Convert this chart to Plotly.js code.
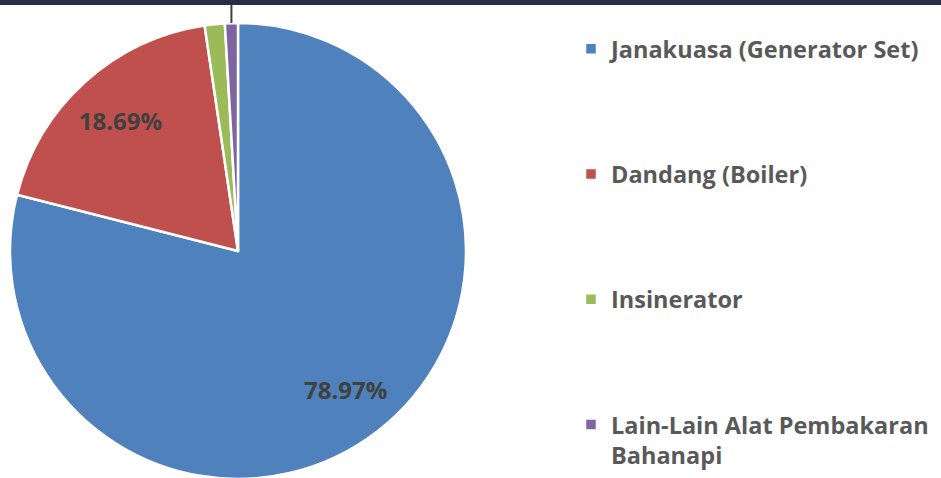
<!DOCTYPE html>
<html>
<head>
<meta charset="utf-8">
<script src="https://cdn.plot.ly/plotly-3.0.1.min.js"></script>
<style>
html, body { margin:0; padding:0; width:941px; height:478px; overflow:hidden; background:#ffffff; }
#wrap { position:relative; width:941px; height:478px; overflow:hidden; }
#chart { position:absolute; left:0; top:-80px; width:941px; height:720px; }
</style>
</head>
<body>
<div id="wrap"><div id="chart"></div></div>
<script>
// Data
const categories = ['Janakuasa (Generator Set)', 'Dandang (Boiler)', 'Insinerator', 'Lain-Lain Alat Pembakaran<br>Bahanapi'];
const shares = [78.97, 18.69, 1.42, 0.92];
const sliceColors = ['#4f81bd', '#c0504d', '#9bbb59', '#8064a2'];
const showInside = [true, true, false, false];

const T = 80, H = 720, W = 941;
const cx = 238, cy = 251 + T, r = 228;
const dom = { x: [(cx - r) / W, (cx + r) / W], y: [(H - cy - r) / H, (H - cy + r) / H] };

// pad legend labels with blank lines to spread the entries like the reference
const padLines = [3, 3, 3, 0];
const legendLabels = categories.map((c, i) => c + '<br>\u00a0'.repeat(padLines[i]));

// main pie: colours, legend, and the leader lines of the (off-screen) small-slice labels
const pie = {
  type: 'pie',
  labels: legendLabels,
  values: shares,
  sort: false,
  direction: 'clockwise',
  rotation: 0,
  marker: { colors: sliceColors, line: { color: '#ffffff', width: 2.5 } },
  texttemplate: showInside.map(s => s ? '' : '\u00a0<br>\u00a0<br>\u00a0'),
  textposition: showInside.map(s => s ? 'none' : 'outside'),
  outsidetextfont: { family: 'Open Sans', size: 18, color: '#404040' },
  domain: dom,
  hoverinfo: 'none'
};

// transparent ring on top, used only to place the percentage labels further out
const ring = {
  type: 'pie',
  labels: legendLabels,
  values: shares,
  sort: false,
  direction: 'clockwise',
  rotation: 0,
  hole: 0.54,
  showlegend: false,
  marker: { colors: shares.map(() => 'rgba(0,0,0,0)'), line: { width: 0 } },
  texttemplate: showInside.map(s => s ? '%{value:.2f}%' : ''),
  textposition: 'inside',
  insidetextorientation: 'horizontal',
  textfont: { family: 'Open Sans', size: 24, color: '#404040', weight: 'bold' },
  domain: dom,
  hoverinfo: 'none'
};

const layout = {
  width: W, height: H,
  margin: { l: 0, r: 0, t: 0, b: 0 },
  paper_bgcolor: '#ffffff',
  showlegend: true,
  legend: {
    x: 571 / W, xanchor: 'left',
    y: 1 - (T + 27) / H, yanchor: 'top',
    valign: 'top',
    font: { family: 'Open Sans', size: 23.5, color: '#595959', weight: 'bold' },
    bgcolor: 'rgba(0,0,0,0)'
  },
  shapes: [{
    type: 'rect', xref: 'paper', yref: 'paper', layer: 'above',
    x0: 0, x1: 1, y0: 1 - (T + 5) / H, y1: 1,
    fillcolor: '#252f47', line: { width: 0 }
  }]
};

Plotly.newPlot('chart', [pie, ring], layout, { displayModeBar: false, staticPlot: true });
</script>
</body>
</html>
